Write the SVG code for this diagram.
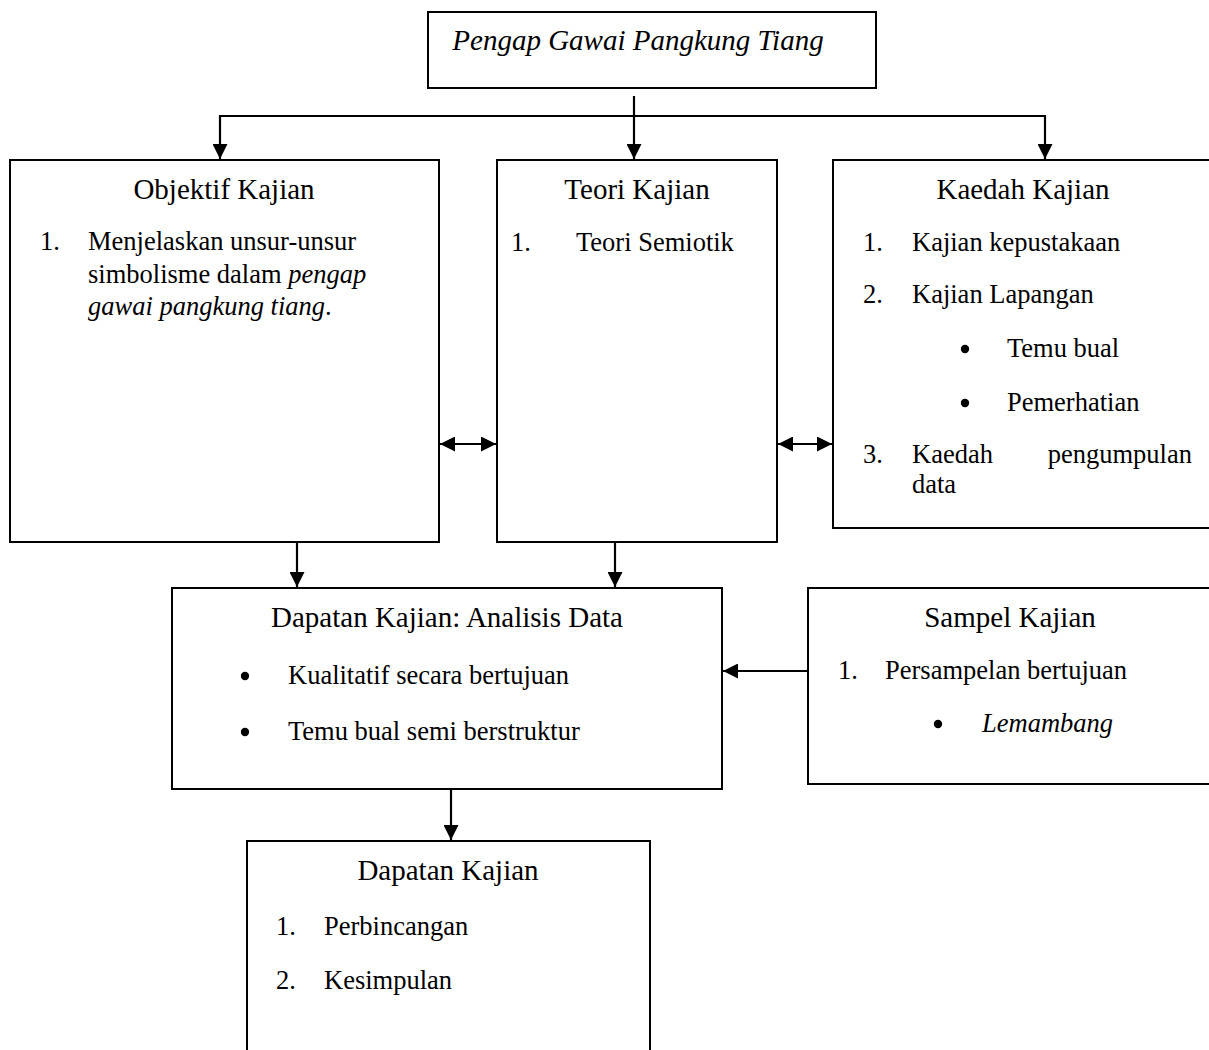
<svg xmlns="http://www.w3.org/2000/svg" width="1209" height="1050" viewBox="0 0 1209 1050">
<style>
.box{fill:#fff;stroke:#000;stroke-width:2}
.t{font-family:"Liberation Serif","Times New Roman",serif;fill:#000}
.h{font-size:29px}
.b{font-size:26.5px}
.c{text-anchor:middle}
.i{font-style:italic}
.ln{stroke:#000;stroke-width:2.2;fill:none}
</style>
<defs>
<marker id="ah" markerUnits="userSpaceOnUse" markerWidth="16" markerHeight="15" refX="15" refY="7.5" orient="auto-start-reverse">
<path d="M0,0 L15,7.5 L0,15 z" fill="#000"/>
</marker>
</defs>
<rect width="1209" height="1050" fill="#fff"/>

<g id="title">
<rect class="box" x="428" y="12" width="448" height="76"/>
<text class="t h i c" x="638" y="50">Pengap Gawai Pangkung Tiang</text>
</g>

<g id="objektif">
<rect class="box" x="10" y="160" width="429" height="382"/>
<text class="t h c" x="224" y="199">Objektif Kajian</text>
<text class="t b" x="40" y="250">1.</text>
<text class="t b" x="88" y="250">Menjelaskan unsur-unsur</text>
<text class="t b" x="88" y="283">simbolisme dalam <tspan class="i">pengap</tspan></text>
<text class="t b" x="88" y="315"><tspan class="i">gawai pangkung tiang</tspan>.</text>
</g>

<g id="teori">
<rect class="box" x="497" y="160" width="280" height="382"/>
<text class="t h c" x="637" y="199">Teori Kajian</text>
<text class="t b" x="511" y="251">1.</text>
<text class="t b" x="576" y="251">Teori Semiotik</text>
</g>

<g id="kaedah">
<rect class="box" x="833" y="160" width="420" height="368"/>
<text class="t h c" x="1023" y="199">Kaedah Kajian</text>
<text class="t b" x="863" y="251">1.</text>
<text class="t b" x="912" y="251">Kajian kepustakaan</text>
<text class="t b" x="863" y="303">2.</text>
<text class="t b" x="912" y="303">Kajian Lapangan</text>
<circle cx="965" cy="349" r="4.2"/>
<text class="t b" x="1007" y="357">Temu bual</text>
<circle cx="965" cy="403" r="4.2"/>
<text class="t b" x="1007" y="411">Pemerhatian</text>
<text class="t b" x="863" y="463">3.</text>
<text class="t b" x="912" y="463">Kaedah</text>
<text class="t b" x="1192" y="463" text-anchor="end">pengumpulan</text>
<text class="t b" x="912" y="493">data</text>
</g>

<g id="analisis">
<rect class="box" x="172" y="588" width="550" height="201"/>
<text class="t h c" x="447" y="627">Dapatan Kajian: Analisis Data</text>
<circle cx="245" cy="676" r="4.2"/>
<text class="t b" x="288" y="684">Kualitatif secara bertujuan</text>
<circle cx="245" cy="732" r="4.2"/>
<text class="t b" x="288" y="740">Temu bual semi berstruktur</text>
</g>

<g id="sampel">
<rect class="box" x="808" y="588" width="440" height="196"/>
<text class="t h c" x="1010" y="627">Sampel Kajian</text>
<text class="t b" x="838" y="679">1.</text>
<text class="t b" x="885" y="679">Persampelan bertujuan</text>
<circle cx="938" cy="724" r="4.2"/>
<text class="t b i" x="982" y="732">Lemambang</text>
</g>

<g id="dapatan">
<rect class="box" x="247" y="841" width="403" height="260"/>
<text class="t h c" x="448" y="880">Dapatan Kajian</text>
<text class="t b" x="276" y="935">1.</text>
<text class="t b" x="324" y="935">Perbincangan</text>
<text class="t b" x="276" y="989">2.</text>
<text class="t b" x="324" y="989">Kesimpulan</text>
</g>

<g id="connectors">
<line class="ln" x1="634" y1="96" x2="634" y2="159" marker-end="url(#ah)"/>
<line class="ln" x1="219" y1="116" x2="1046" y2="116"/>
<line class="ln" x1="220" y1="115" x2="220" y2="159" marker-end="url(#ah)"/>
<line class="ln" x1="1045" y1="115" x2="1045" y2="159" marker-end="url(#ah)"/>
<line class="ln" x1="440" y1="444" x2="496" y2="444" marker-start="url(#ah)" marker-end="url(#ah)"/>
<line class="ln" x1="778" y1="444" x2="832" y2="444" marker-start="url(#ah)" marker-end="url(#ah)"/>
<line class="ln" x1="297" y1="543" x2="297" y2="587" marker-end="url(#ah)"/>
<line class="ln" x1="615" y1="543" x2="615" y2="587" marker-end="url(#ah)"/>
<line class="ln" x1="807" y1="671" x2="723" y2="671" marker-end="url(#ah)"/>
<line class="ln" x1="451" y1="790" x2="451" y2="840" marker-end="url(#ah)"/>
</g>
</svg>
